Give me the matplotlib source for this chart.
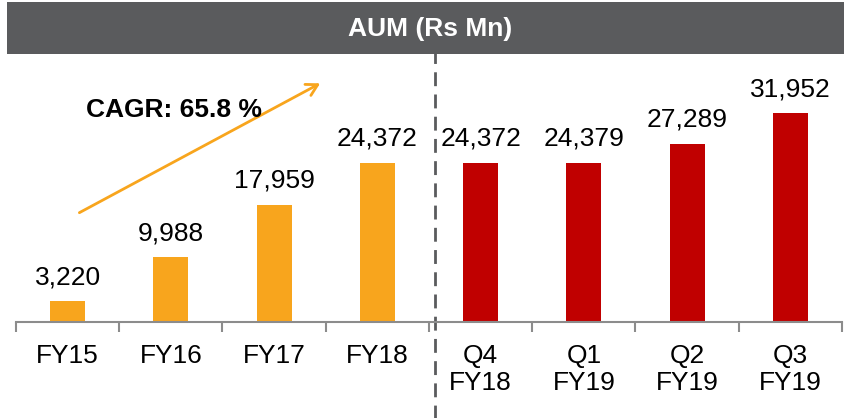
import matplotlib
matplotlib.use("Agg")
import matplotlib.pyplot as plt
from matplotlib.patches import Rectangle

plt.rcParams['font.family'] = ['Liberation Sans', 'DejaVu Sans']

categorias = ["FY15", "FY16", "FY17", "FY18", "Q4\nFY18", "Q1\nFY19", "Q2\nFY19", "Q3\nFY19"]
aum = [3220, 9988, 17959, 24372, 24372, 24379, 27289, 31952]
rotulos = ["3,220", "9,988", "17,959", "24,372", "24,372", "24,379", "27,289", "31,952"]
titulo = "AUM (Rs Mn)"
texto_cagr = "CAGR: 65.8 %"

laranja = "#F8A51D"
vermelho = "#C00000"
cores = [laranja] * 4 + [vermelho] * 4

fig = plt.figure(figsize=(8.44, 4.18), dpi=100)
W, H = 844, 418

# faixa do titulo
fig.add_artist(Rectangle((7 / W, 1 - 54 / H), 837 / W, 52 / H, transform=fig.transFigure,
                         facecolor="#5A5B5D", edgecolor="none"))
fig.text(430 / W, 1 - 29 / H, titulo, color="white", fontsize=19, fontweight="bold",
         ha="center", va="center")

ax = fig.add_axes([16 / W, 1 - 322 / H, 826 / W, 262 / H])
x = list(range(len(categorias)))
ax.bar(x, aum, width=0.34, color=cores)
ax.set_xlim(-0.5, len(categorias) - 0.5)
ax.set_ylim(0, 40055)

for i, (v, r) in enumerate(zip(aum, rotulos)):
    ax.annotate(r, (i, v), xytext=(0, 12), textcoords="offset points",
                ha="center", va="baseline", fontsize=19, color="black")

for s in ["top", "right", "left"]:
    ax.spines[s].set_visible(False)
ax.spines["bottom"].set_color("#8C8C8C")
ax.spines["bottom"].set_linewidth(1.5)
ax.set_yticks([])
ax.set_xticks(x)
ax.set_xticklabels(categorias, fontsize=19, linespacing=1.15)
ax.tick_params(axis="x", which="major", length=0, pad=16)
ax.set_xticks([i - 0.5 for i in range(len(categorias) + 1)], minor=True)
ax.tick_params(axis="x", which="minor", length=7, width=1.5, color="#8C8C8C", direction="out")

# linha tracejada separando anos e trimestres
ax.plot([3.56, 3.56], [-0.37, 1.04], transform=ax.get_xaxis_transform(), clip_on=False,
        color="#5A5B5D", linewidth=2, linestyle=(0, (5, 3)))

# seta do CAGR
ax.annotate("", xy=(2.47, 36690), xytext=(0.09, 16511),
            arrowprops=dict(arrowstyle="->,head_length=0.8,head_width=0.45", color=laranja, lw=2),
            annotation_clip=False)
ax.text(1.035, 32410, texto_cagr, fontsize=19, fontweight="bold", ha="center", va="center")

fig.savefig("out.png", dpi=100)
